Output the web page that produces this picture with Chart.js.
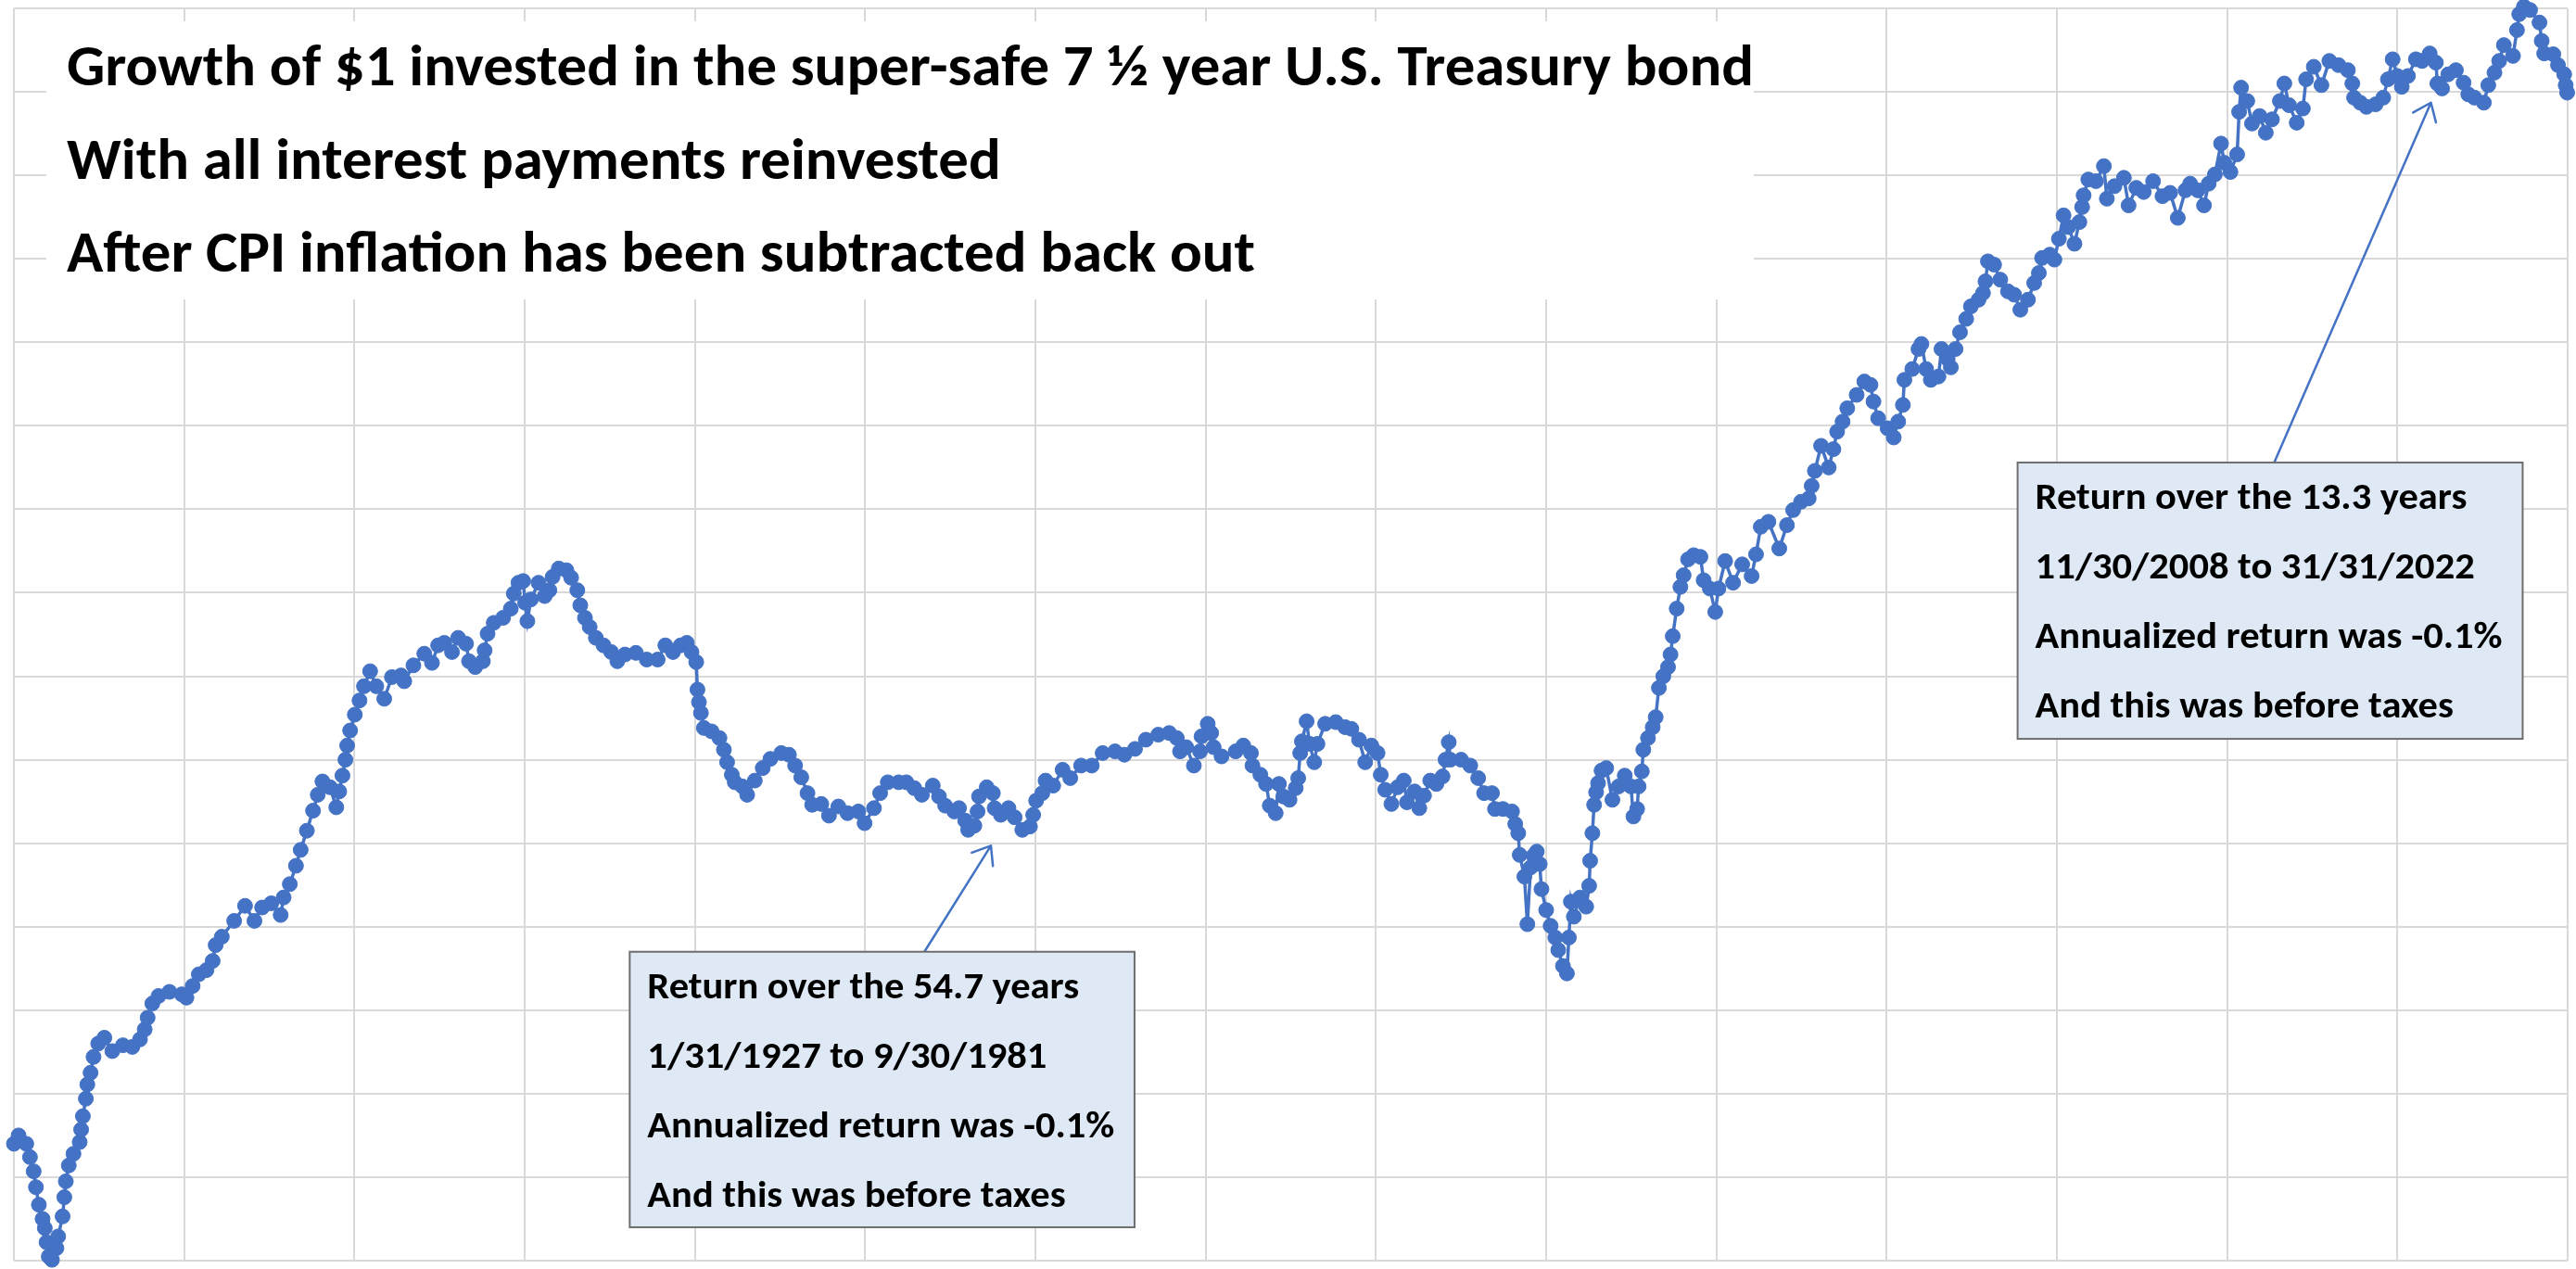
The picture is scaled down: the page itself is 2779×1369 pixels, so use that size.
<!DOCTYPE html>
<html>
<head>
<meta charset="utf-8">
<title>Growth of $1 in 7 ½ year Treasuries, after inflation</title>
<script src="https://cdn.jsdelivr.net/npm/chart.js@4.4.1/dist/chart.umd.min.js"></script>
<style>
    html, body { margin: 0; padding: 0; background: #fff; }
    #wrap { position: relative; width: 2779px; height: 1369px; }
</style>
</head>
<body>
<div id="wrap"><canvas id="chart"></canvas></div>
<script>
// Real (CPI-adjusted) value of the bond index, one gridline = 1 unit.
const years = [
    1918.95, 1919.14, 1919.45, 1919.60, 1919.75, 1919.84, 1919.96, 1920.11, 1920.20, 1920.27,
    1920.36, 1920.49, 1920.67, 1920.74, 1920.92, 1920.99, 1921.05, 1921.17, 1921.36, 1921.61,
    1921.67, 1921.74, 1921.86, 1921.92, 1922.05, 1922.17, 1922.36, 1922.61, 1922.93, 1923.36,
    1923.74, 1924.05, 1924.24, 1924.36, 1924.55, 1924.80, 1925.24, 1925.74, 1925.93, 1926.18,
    1926.43, 1926.74, 1926.99, 1927.11, 1927.36, 1927.86, 1928.30, 1928.68, 1928.99, 1929.36,
    1929.74, 1929.86, 1930.11, 1930.36, 1930.55, 1930.80, 1931.05, 1931.24, 1931.43, 1931.74,
    1931.99, 1932.11, 1932.24, 1932.36, 1932.43, 1932.55, 1932.74, 1932.93, 1933.11, 1933.36,
    1933.61, 1933.93, 1934.24, 1934.61, 1934.74, 1935.11, 1935.55, 1935.86, 1936.11, 1936.36,
    1936.67, 1936.92, 1937.24, 1937.36, 1937.61, 1937.92, 1937.99, 1938.11, 1938.36, 1938.74,
    1939.05, 1939.17, 1939.36, 1939.55, 1939.63, 1939.72, 1939.86, 1940.17, 1940.42, 1940.61,
    1940.74, 1940.99, 1941.30, 1941.49, 1941.74, 1941.86, 1942.05, 1942.24, 1942.49, 1942.80,
    1943.11, 1943.36, 1943.67, 1944.11, 1944.55, 1944.99, 1945.30, 1945.61, 1945.92, 1946.17,
    1946.36, 1946.55, 1946.60, 1946.66, 1946.74, 1946.86, 1947.17, 1947.49, 1947.67, 1947.80,
    1947.99, 1948.11, 1948.42, 1948.61, 1948.92, 1949.24, 1949.55, 1949.99, 1950.30, 1950.55,
    1950.80, 1951.05, 1951.24, 1951.61, 1951.92, 1952.30, 1952.67, 1953.11, 1953.36, 1953.74,
    1953.99, 1954.30, 1954.74, 1955.05, 1955.37, 1955.68, 1956.12, 1956.37, 1956.62, 1956.99,
    1957.18, 1957.43, 1957.55, 1957.80, 1957.93, 1957.99, 1958.30, 1958.55, 1958.62, 1958.87,
    1959.18, 1959.43, 1959.74, 1960.05, 1960.18, 1960.30, 1960.55, 1960.68, 1960.99, 1961.37,
    1961.68, 1962.12, 1962.55, 1962.99, 1963.49, 1963.87, 1964.30, 1964.74, 1965.24, 1965.68,
    1965.99, 1966.12, 1966.37, 1966.68, 1966.93, 1966.99, 1967.24, 1967.38, 1967.48, 1967.80,
    1968.37, 1968.68, 1968.99, 1969.05, 1969.37, 1969.60, 1969.75, 1969.99, 1970.12, 1970.30,
    1970.55, 1970.80, 1970.90, 1970.98, 1971.05, 1971.24, 1971.36, 1971.55, 1971.68, 1971.99,
    1972.42, 1972.80, 1973.05, 1973.36, 1973.61, 1973.86, 1974.11, 1974.24, 1974.42, 1974.67,
    1974.92, 1975.17, 1975.30, 1975.61, 1975.80, 1975.99, 1976.24, 1976.49, 1976.74, 1976.86,
    1976.99, 1977.05, 1977.49, 1977.86, 1978.18, 1978.42, 1978.74, 1978.86, 1979.18, 1979.55,
    1979.68, 1979.80, 1979.86, 1980.05, 1980.17, 1980.30, 1980.42, 1980.55, 1980.67, 1980.74,
    1980.93, 1981.11, 1981.30, 1981.42, 1981.61, 1981.77, 1981.85, 1981.93, 1982.05, 1982.30,
    1982.55, 1982.67, 1982.71, 1982.80, 1982.87, 1982.95, 1983.03, 1983.17, 1983.36, 1983.61,
    1983.86, 1984.11, 1984.36, 1984.46, 1984.61, 1984.67, 1984.80, 1984.86, 1985.05, 1985.24,
    1985.36, 1985.49, 1985.67, 1985.86, 1985.96, 1986.05, 1986.21, 1986.36, 1986.49, 1986.67,
    1986.90, 1987.17, 1987.30, 1987.55, 1987.77, 1987.90, 1988.17, 1988.49, 1988.86, 1989.24,
    1989.42, 1989.61, 1989.92, 1990.36, 1990.67, 1990.92, 1991.24, 1991.55, 1991.67, 1991.80,
    1992.05, 1992.36, 1992.55, 1992.70, 1992.92, 1993.11, 1993.49, 1993.80, 1994.05, 1994.17,
    1994.36, 1994.74, 1994.99, 1995.17, 1995.36, 1995.42, 1995.74, 1995.99, 1996.11, 1996.30,
    1996.49, 1996.80, 1996.92, 1997.17, 1997.30, 1997.49, 1997.67, 1997.92, 1998.11, 1998.42,
    1998.60, 1998.70, 1998.80, 1999.05, 1999.30, 1999.61, 1999.86, 2000.11, 2000.42, 2000.67,
    2000.86, 2000.99, 2001.30, 2001.49, 2001.67, 2001.86, 2002.05, 2002.30, 2002.50, 2002.61,
    2002.67, 2002.86, 2003.17, 2003.49, 2003.61, 2003.92, 2004.30, 2004.49, 2004.80, 2005.10,
    2005.48, 2005.86, 2006.17, 2006.48, 2006.79, 2006.98, 2007.29, 2007.54, 2007.73, 2007.98,
    2008.23, 2008.36, 2008.61, 2008.88, 2008.96, 2009.04, 2009.29, 2009.48, 2009.79, 2010.04,
    2010.29, 2010.61, 2010.79, 2010.98, 2011.29, 2011.54, 2011.67, 2011.98, 2012.29, 2012.61,
    2012.98, 2013.36, 2013.54, 2013.61, 2013.86, 2014.11, 2014.48, 2014.79, 2014.98, 2015.17,
    2015.36, 2015.54, 2015.79, 2016.11, 2016.36, 2016.67, 2016.92, 2016.98, 2017.17, 2017.42,
    2017.73, 2018.04, 2018.23, 2018.48, 2018.86, 2019.04, 2019.29, 2019.48, 2019.67, 2020.04,
    2020.20, 2020.29, 2020.48, 2020.73, 2021.11, 2021.20, 2021.30, 2021.67, 2021.86, 2022.11,
    2022.17, 2022.23,
];

const realValue = [
    1.40, 1.50, 1.40, 1.24, 1.07, 0.88, 0.67, 0.50, 0.39, 0.22,
    0.05, 0.01, 0.15, 0.29, 0.53, 0.76, 0.95, 1.14, 1.28, 1.42,
    1.57, 1.73, 1.94, 2.11, 2.25, 2.44, 2.60, 2.67, 2.51, 2.58,
    2.56, 2.65, 2.77, 2.91, 3.08, 3.17, 3.22, 3.19, 3.15, 3.29,
    3.43, 3.48, 3.59, 3.78, 3.88, 4.07, 4.25, 4.07, 4.23, 4.28,
    4.14, 4.35, 4.51, 4.73, 4.92, 5.15, 5.39, 5.58, 5.74, 5.67,
    5.43, 5.62, 5.81, 6.00, 6.17, 6.35, 6.54, 6.71, 6.88, 7.06,
    6.88, 6.73, 6.99, 7.01, 6.94, 7.13, 7.27, 7.16, 7.37, 7.40,
    7.29, 7.46, 7.39, 7.18, 7.11, 7.18, 7.31, 7.51, 7.64, 7.70,
    7.81, 7.99, 8.12, 8.14, 7.88, 7.66, 7.92, 8.12, 7.96, 8.03,
    8.19, 8.29, 8.27, 8.18, 8.03, 7.85, 7.70, 7.59, 7.46, 7.37,
    7.29, 7.18, 7.26, 7.28, 7.20, 7.20, 7.37, 7.29, 7.37, 7.40,
    7.29, 7.17, 6.84, 6.69, 6.56, 6.38, 6.34, 6.26, 6.12, 5.97,
    5.82, 5.73, 5.68, 5.58, 5.75, 5.90, 6.01, 6.08, 6.06, 5.93,
    5.79, 5.60, 5.46, 5.47, 5.33, 5.44, 5.36, 5.38, 5.24, 5.42,
    5.60, 5.73, 5.73, 5.73, 5.66, 5.58, 5.69, 5.56, 5.45, 5.38,
    5.42, 5.27, 5.16, 5.21, 5.38, 5.56, 5.67, 5.60, 5.42, 5.34,
    5.42, 5.31, 5.16, 5.20, 5.34, 5.51, 5.60, 5.75, 5.69, 5.88,
    5.78, 5.93, 5.93, 6.08, 6.10, 6.06, 6.13, 6.24, 6.30, 6.32,
    6.26, 6.10, 6.15, 5.93, 6.10, 6.28, 6.43, 6.32, 6.15, 6.04,
    6.10, 6.17, 6.08, 5.93, 5.82, 5.71, 5.45, 5.36, 5.71, 5.56,
    5.52, 5.66, 5.78, 6.08, 6.22, 6.46, 6.19, 5.97, 6.19, 6.43,
    6.45, 6.39, 6.37, 6.24, 5.97, 6.17, 6.08, 5.82, 5.64, 5.47,
    5.67, 5.75, 5.49, 5.62, 5.42, 5.57, 5.75, 5.71, 5.80, 6.00,
    6.21, 6.00, 6.00, 5.93, 5.78, 5.60, 5.60, 5.41, 5.41, 5.38,
    5.23, 5.12, 4.86, 4.60, 4.03, 4.71, 4.85, 4.90, 4.75, 4.45,
    4.20, 4.01, 3.87, 3.72, 3.53, 3.44, 3.87, 4.30, 4.12, 4.35,
    4.24, 4.49, 4.79, 5.12, 5.46, 5.61, 5.72, 5.87, 5.90, 5.52,
    5.68, 5.81, 5.68, 5.32, 5.41, 5.68, 5.86, 6.12, 6.26, 6.39,
    6.51, 6.86, 7.00, 7.11, 7.26, 7.48, 7.81, 8.07, 8.21, 8.40,
    8.45, 8.43, 8.15, 8.05, 7.77, 8.05, 8.38, 8.12, 8.34, 8.20,
    8.46, 8.79, 8.85, 8.53, 8.81, 8.99, 9.09, 9.13, 9.28, 9.46,
    9.76, 9.50, 9.72, 9.93, 10.05, 10.21, 10.37, 10.53, 10.49, 10.29,
    10.09, 9.97, 9.86, 10.05, 10.25, 10.55, 10.68, 10.92, 10.98, 10.68,
    10.55, 10.59, 10.92, 10.80, 10.70, 10.92, 11.12, 11.28, 11.43, 11.51,
    11.59, 11.73, 11.97, 11.93, 11.75, 11.61, 11.57, 11.39, 11.51, 11.71,
    11.83, 12.01, 12.05, 11.99, 12.24, 12.52, 12.38, 12.18, 12.44, 12.62,
    12.76, 12.95, 12.93, 13.11, 12.72, 12.87, 12.97, 12.64, 12.85, 12.80,
    12.93, 12.75, 12.79, 12.49, 12.82, 12.90, 12.82, 12.64, 12.90, 13.01,
    13.38, 13.15, 13.04, 13.25, 13.76, 14.05, 13.89, 13.62, 13.71, 13.51,
    13.67, 13.89, 14.10, 13.84, 13.63, 13.80, 14.15, 14.30, 14.08, 14.37,
    14.32, 14.26, 14.10, 13.93, 13.87, 13.82, 13.85, 13.93, 14.15, 14.39,
    14.19, 14.06, 14.19, 14.39, 14.37, 14.46, 14.35, 14.10, 14.04, 14.21,
    14.26, 14.11, 13.97, 13.93, 13.87, 14.08, 14.23, 14.37, 14.56, 14.43,
    14.74, 14.93, 15.02, 14.98, 14.83, 14.61, 14.46, 14.45, 14.32, 14.21,
    14.08, 13.99,
];

const titleLines = [
    'Growth of $1 invested in the super-safe 7 ½ year U.S. Treasury bond',
    'With all interest payments reinvested',
    'After CPI inflation has been subtracted back out',
];

const earlyNote = [
    'Return over the 54.7 years',
    '1/31/1927 to 9/30/1981',
    'Annualized return was -0.1%',
    'And this was before taxes',
];

const lateNote = [
    'Return over the 13.3 years',
    '11/30/2008 to 31/31/2022',
    'Annualized return was -0.1%',
    'And this was before taxes',
];

const FONT = 'Carlito, Lato, sans-serif';
const BLUE = '#4472C4';
const GRID = '#d9d9d9';

// callout boxes and their arrows, anchored in (year, value) space
const callouts = [
    { lines: earlyNote, x0: 1943.86, x1: 1964.28, top: 3.70, bottom: 0.40, from: [1955.78, 3.70], to: [1958.47, 4.97] },
    { lines: lateNote, x0: 2000.00, x1: 2020.43, top: 9.56, bottom: 6.25, from: [2010.38, 9.56], to: [2016.72, 13.87] },
];

// Pick a bold font size with the given cap height, plus the horizontal
// squeeze needed so the reference line comes out at the given width.
function condensedFont(ctx, sample, capHeight, width) {
    ctx.font = `bold 100px ${FONT}`;
    const cap = ctx.measureText('H').actualBoundingBoxAscent;
    const size = 100 * capHeight / cap;
    ctx.font = `bold ${size}px ${FONT}`;
    return { size, squeeze: width / ctx.measureText(sample).width };
}

function drawLines(ctx, lines, font, x, y, gap) {
    ctx.save();
    ctx.font = `bold ${font.size}px ${FONT}`;
    ctx.fillStyle = '#000';
    ctx.textBaseline = 'alphabetic';
    ctx.translate(x, y);
    ctx.scale(font.squeeze, 1);
    lines.forEach((line, i) => ctx.fillText(line, 0, i * gap));
    ctx.restore();
}

const overlay = {
    id: 'overlay',
    afterDraw(chart) {
        const { ctx, scales: { x, y } } = chart;
        ctx.save();

        // title panel hides the grid behind it
        ctx.fillStyle = '#fff';
        ctx.fillRect(50, 23, 1842, 300);
        const titleFont = condensedFont(ctx, titleLines[0], 41, 1820);
        drawLines(ctx, titleLines, titleFont, 72, 92, 100.5);

        callouts.forEach((c) => {
            const left = x.getPixelForValue(c.x0);
            const right = x.getPixelForValue(c.x1);
            const top = y.getPixelForValue(c.top);
            const bottom = y.getPixelForValue(c.bottom);

            const bx = x.getPixelForValue(c.from[0]);
            const by = y.getPixelForValue(c.from[1]);
            const tx = x.getPixelForValue(c.to[0]);
            const ty = y.getPixelForValue(c.to[1]);
            const back = Math.atan2(by - ty, bx - tx);

            ctx.strokeStyle = BLUE;
            ctx.lineWidth = 2.5;
            ctx.lineCap = 'round';
            ctx.beginPath();
            ctx.moveTo(bx, by);
            ctx.lineTo(tx, ty);
            [-0.66, 0.66].forEach((d) => {
                ctx.moveTo(tx, ty);
                ctx.lineTo(tx + 22 * Math.cos(back + d), ty + 22 * Math.sin(back + d));
            });
            ctx.stroke();

            ctx.fillStyle = '#dee9f5';
            ctx.fillRect(left, top, right - left, bottom - top);
            ctx.strokeStyle = '#6e6e6e';
            ctx.lineWidth = 2;
            ctx.strokeRect(left, top, right - left, bottom - top);

            const noteFont = condensedFont(ctx, c.lines[2], 26.5, 504);
            drawLines(ctx, c.lines, noteFont, left + 19, top + 50, 75);
        });

        ctx.restore();
    },
};

new Chart(document.getElementById('chart'), {
    type: 'line',
    data: {
        datasets: [
            {
                data: years.map((year, i) => ({ x: year, y: realValue[i] })),
                borderColor: BLUE,
                backgroundColor: BLUE,
                pointBackgroundColor: BLUE,
                pointBorderColor: BLUE,
                pointBorderWidth: 1,
                pointRadius: 8,
                borderWidth: 3.5,
                tension: 0,
                clip: false,
            },
        ],
    },
    options: {
        responsive: true,
        maintainAspectRatio: false,
        animation: false,
        devicePixelRatio: 1,
        layout: {
            padding: { left: 15, top: 9, right: 7, bottom: 2 },
        },
        plugins: {
            legend: { display: false },
            tooltip: { enabled: false },
        },
        scales: {
            x: {
                type: 'linear',
                min: 1918.95,
                max: 2022.25,
                afterBuildTicks(scale) {
                    const step = (scale.max - scale.min) / 15;
                    scale.ticks = Array.from({ length: 16 }, (_, i) => ({ value: scale.min + i * step }));
                },
                ticks: { display: false },
                grid: { color: GRID, lineWidth: 2, drawTicks: false },
                border: { display: false },
            },
            y: {
                min: 0,
                max: 15,
                ticks: { display: false, stepSize: 1 },
                grid: { color: GRID, lineWidth: 2, drawTicks: false },
                border: { display: false },
            },
        },
    },
    plugins: [overlay],
});
</script>
</body>
</html>
